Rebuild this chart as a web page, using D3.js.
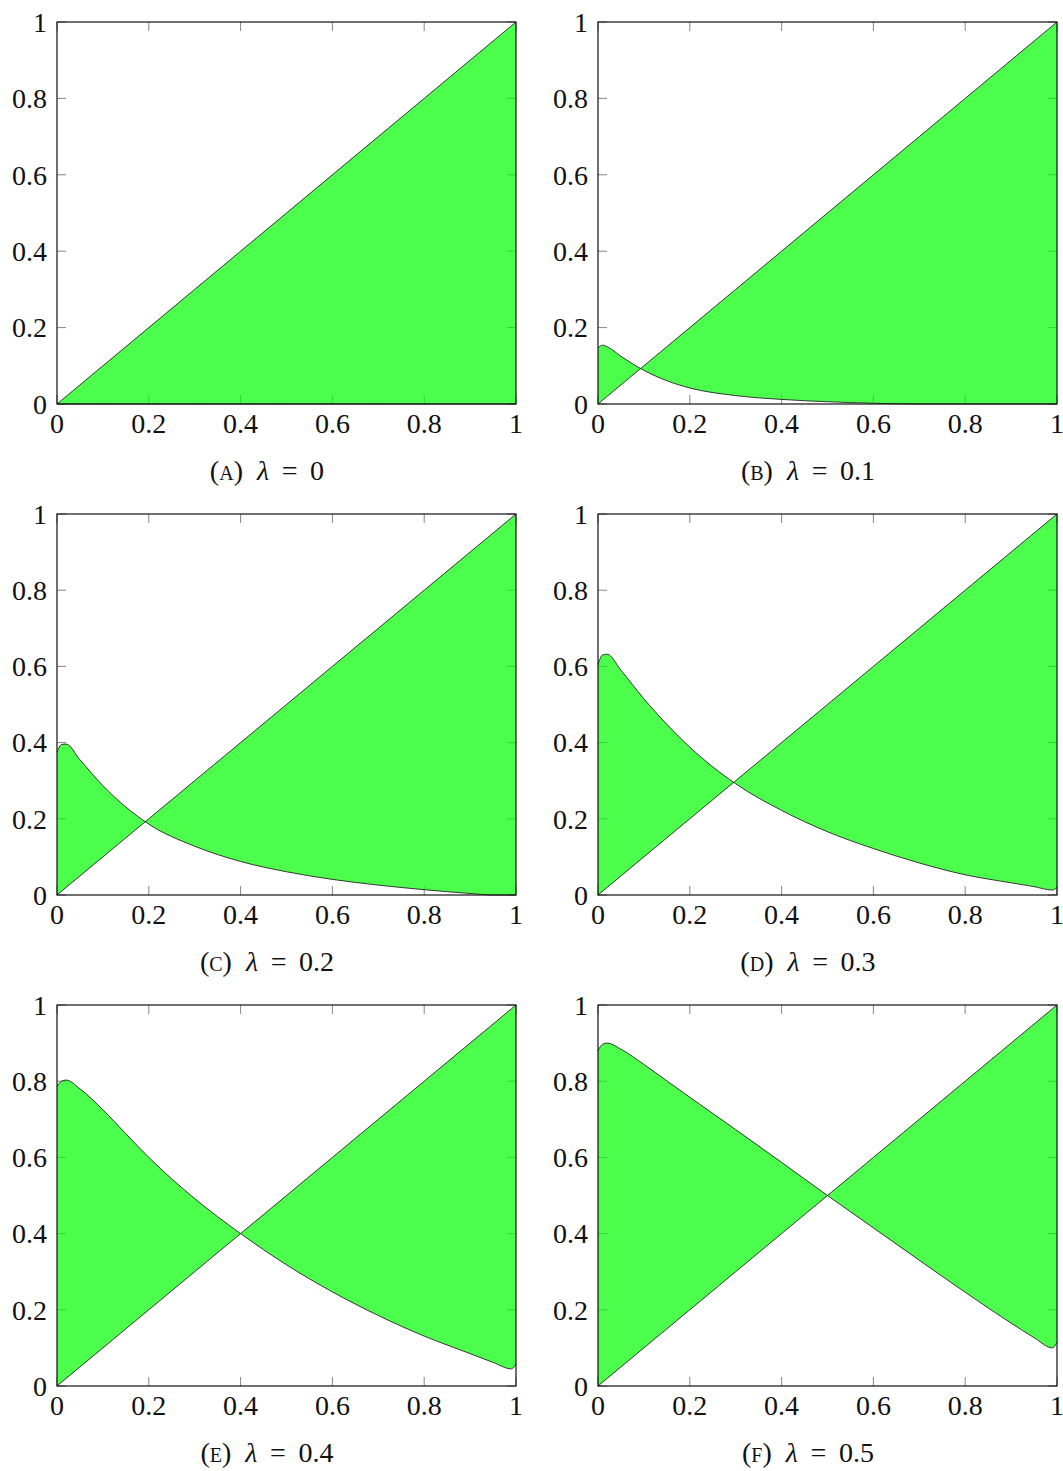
<!DOCTYPE html>
<html>
<head>
<meta charset="utf-8">
<script src="https://cdn.jsdelivr.net/npm/d3@7"></script>
<style>
  body { margin: 0; background: #fff; }
  svg { display: block; }
</style>
</head>
<body>
<svg id="chart" width="1063" height="1471"></svg>
<script>
// panel labels and lambda values
var letters = ["a", "b", "c", "d", "e", "f"];
var lambdas = ["0", "0.1", "0.2", "0.3", "0.4", "0.5"];
var ticks = [0, 0.2, 0.4, 0.6, 0.8, 1];
var tickLabels = ["0", "0.2", "0.4", "0.6", "0.8", "1"];

// sample points along x
var xs = [0, 0.01, 0.02, 0.05, 0.1, 0.15, 0.2, 0.3, 0.4, 0.5, 0.6, 0.7, 0.8, 0.9, 0.95, 0.99, 1];

// the decreasing curve of each panel
var curveA = [0, 0, 0, 0, 0, 0, 0, 0, 0, 0, 0, 0, 0, 0, 0, 0, 0];
var curveB = [0.147, 0.154, 0.150, 0.125, 0.088, 0.061, 0.042, 0.022, 0.012, 0.006, 0.002, 0, 0, 0, 0, 0, 0];
var curveC = [0.375, 0.395, 0.396, 0.355, 0.287, 0.231, 0.186, 0.128, 0.088, 0.061, 0.041, 0.026, 0.014, 0.004, 0, 0, 0];
var curveD = [0.605, 0.630, 0.632, 0.590, 0.515, 0.448, 0.388, 0.292, 0.222, 0.166, 0.122, 0.084, 0.053, 0.032, 0.022, 0.013, 0.02];
var curveE = [0.786, 0.800, 0.803, 0.780, 0.725, 0.662, 0.600, 0.492, 0.400, 0.318, 0.247, 0.185, 0.131, 0.085, 0.062, 0.045, 0.058];
var curveF = [0.880, 0.897, 0.900, 0.884, 0.844, 0.801, 0.758, 0.673, 0.587, 0.500, 0.415, 0.330, 0.246, 0.165, 0.127, 0.100, 0.115];
var curves = [curveA, curveB, curveC, curveD, curveE, curveF];

var FONT = "Liberation Serif";

var svg = d3.select("#chart");

var colX = [57, 598],
    rowY = [22, 514, 1005],
    pw = 459,
    ph = 382;

curves.forEach(function(cv, i) {
    var x0 = colX[i % 2], y0 = rowY[Math.floor(i / 2)];
    if (i >= 2) ph = 381;

    var x = d3.scaleLinear().domain([0, 1]).range([0, pw]);
    var y = d3.scaleLinear().domain([0, 1]).range([ph, 0]);

    var g = svg.append("g").attr("transform", "translate(" + x0 + "," + y0 + ")");

    // inward ticks on all sides (drawn under the fill)
    var tk = 9;
    ticks.forEach(function(t) {
        g.append("line").attr("x1", x(t)).attr("x2", x(t)).attr("y1", ph).attr("y2", ph - tk);
        g.append("line").attr("x1", x(t)).attr("x2", x(t)).attr("y1", 0).attr("y2", tk);
        g.append("line").attr("y1", y(t)).attr("y2", y(t)).attr("x1", 0).attr("x2", tk);
        g.append("line").attr("y1", y(t)).attr("y2", y(t)).attr("x1", pw).attr("x2", pw - tk);
    });
    g.selectAll("line").attr("stroke", "#666").attr("stroke-width", 0.8);

    var pts = xs.map(function(v, k) { return { x: v, f: cv[k] }; });

    var area = d3.area()
        .curve(d3.curveMonotoneX)
        .x(function(d) { return x(d.x); })
        .y0(function(d) { return y(d.x); })
        .y1(function(d) { return y(d.f); });

    g.append("path").datum(pts)
        .attr("d", area)
        .attr("fill", "#00ff00")
        .attr("fill-opacity", 0.7);

    var diag = d3.line().x(function(d) { return x(d.x); }).y(function(d) { return y(d.x); });
    var fl = d3.line().curve(d3.curveMonotoneX)
        .x(function(d) { return x(d.x); }).y(function(d) { return y(d.f); });

    g.append("path").datum(pts).attr("d", diag)
        .attr("fill", "none").attr("stroke", "#222").attr("stroke-width", 0.9);
    g.append("path").datum(pts).attr("d", fl)
        .attr("fill", "none").attr("stroke", "#222").attr("stroke-width", 0.9);

    // frame
    g.append("rect").attr("width", pw).attr("height", ph)
        .attr("fill", "none").attr("stroke", "#111").attr("stroke-width", 1.2);

    // tick labels
    ticks.forEach(function(t, k) {
        g.append("text").attr("x", x(t)).attr("y", ph + 19).attr("dy", "0.35em")
            .attr("font-family", FONT)
            .attr("text-anchor", "middle").attr("font-size", 28).attr("fill", "#111").text(tickLabels[k]);
        g.append("text").attr("x", -10).attr("y", y(t)).attr("dy", "0.35em")
            .attr("font-family", FONT)
            .attr("text-anchor", "end").attr("font-size", 28).attr("fill", "#111").text(tickLabels[k]);
    });

    // caption
    var cap = g.append("text").attr("x", 210).attr("y", ph + 66).attr("dy", "0.35em")
        .attr("font-family", FONT)
        .attr("text-anchor", "middle").attr("font-size", 28).attr("fill", "#111")
        .style("white-space", "pre");
    cap.append("tspan").text("(");
    cap.append("tspan").style("font-variant", "small-caps").text(letters[i]);
    cap.append("tspan").text(")  ");
    cap.append("tspan").attr("font-style", "italic").text("\u03bb");
    cap.append("tspan").text(" \u2009=\u2009 " + lambdas[i]);
});
</script>
</body>
</html>
